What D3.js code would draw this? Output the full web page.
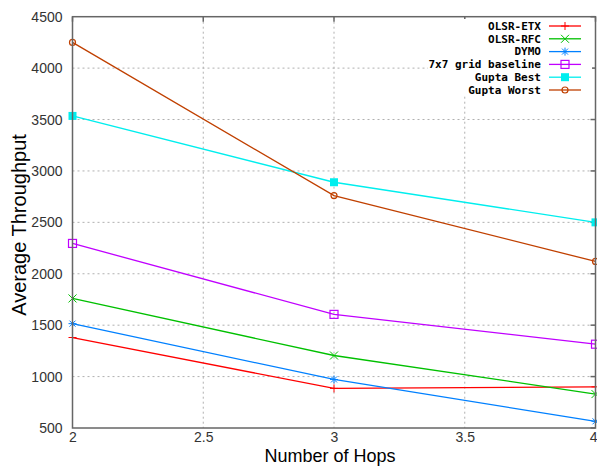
<!DOCTYPE html>
<html><head><meta charset="utf-8">
<script src="https://cdn.jsdelivr.net/npm/d3@7"></script>
<style>body{margin:0;background:#fff}</style>
</head><body>
<svg id="c" width="597" height="466"></svg>
<script>
const hops = [2, 3, 4];
const olsrEtx = [1380, 885, 900];
const olsrRfc = [1760, 1205, 830];
const dymo = [1515, 972, 565];
const baseline = [2295, 1605, 1315];
const guptaBest = [3535, 2890, 2500];
const guptaWorst = [4250, 2760, 2120];
const seriesNames = ["OLSR-ETX", "OLSR-RFC", "DYMO", "7x7 grid baseline", "Gupta Best", "Gupta Worst"];
const xTicks = [2, 2.5, 3, 3.5, 4];
const yTicks = [500, 1000, 1500, 2000, 2500, 3000, 3500, 4000, 4500];

const series = [
  {name: seriesNames[0], v: olsrEtx, color: "#ff0000", m: "plus"},
  {name: seriesNames[1], v: olsrRfc, color: "#00c000", m: "cross"},
  {name: seriesNames[2], v: dymo, color: "#0080ff", m: "star"},
  {name: seriesNames[3], v: baseline, color: "#c000ff", m: "osq"},
  {name: seriesNames[4], v: guptaBest, color: "#00eeee", m: "fsq"},
  {name: seriesNames[5], v: guptaWorst, color: "#c04000", m: "ocirc"}
];

const L = 72.5, R = 595.5, T = 16.7, B = 428;
const svg = d3.select("#c");
const x = d3.scaleLinear().domain([2, 4]).range([L, R]);
const y = d3.scaleLinear().domain([500, 4500]).range([B, T]);

// grid
const grid = svg.append("g");
grid.selectAll("line.gy").data(yTicks.slice(1, -1)).enter().append("line")
  .attr("x1", L).attr("x2", R).attr("y1", d => y(d)).attr("y2", d => y(d))
  .attr("stroke", "#b0b0b0").attr("stroke-width", 1).attr("stroke-dasharray", "2,3");
grid.selectAll("line.gx").data(xTicks.slice(1, -1)).enter().append("line")
  .attr("y1", T).attr("y2", B).attr("x1", d => x(d)).attr("x2", d => x(d))
  .attr("stroke", "#b0b0b0").attr("stroke-width", 1).attr("stroke-dasharray", "2,3");

// axes with ticks
const axL = svg.append("g").attr("transform", `translate(${L},0)`)
  .call(d3.axisLeft(y).tickValues(yTicks).tickFormat(d3.format("d")).tickSize(0).tickPadding(10));
const axB = svg.append("g").attr("transform", `translate(0,${B})`)
  .call(d3.axisBottom(x).tickValues(xTicks).tickFormat(d3.format("")).tickSize(0).tickPadding(4));
[axL, axB].forEach(a => {
  a.select(".domain").remove();
  a.selectAll("text").attr("font-family", "Liberation Sans, Arial, sans-serif")
    .attr("font-size", 14).attr("fill", "#333");
});
axB.selectAll(".tick").filter(d => d === 4).select("text").attr("text-anchor", "end").attr("x", 1.5);

// inner ticks
svg.append("g").selectAll("line").data(yTicks).enter().append("line")
  .attr("x1", R - 5).attr("x2", R).attr("y1", d => y(d)).attr("y2", d => y(d))
  .attr("stroke", "#666").attr("stroke-width", 1.5);
svg.append("g").selectAll("line").data(xTicks).enter().append("line")
  .attr("y1", T).attr("y2", T + 5).attr("x1", d => x(d)).attr("x2", d => x(d))
  .attr("stroke", "#666").attr("stroke-width", 1.5);

// legend background
svg.append("rect").attr("x", 428).attr("y", 19).attr("width", 164).attr("height", 76).attr("fill", "#fff");

// lines
const line = d3.line().x((d, i) => x(hops[i])).y(d => y(d));
function marker(g, type, cx, cy, color) {
  const s = 4;
  if (type === "plus") {
    g.append("path").attr("d", `M${cx - s},${cy}H${cx + s}M${cx},${cy - s}V${cy + s}`).attr("stroke", color).attr("fill", "none");
  } else if (type === "cross") {
    g.append("path").attr("d", `M${cx - s},${cy - s}L${cx + s},${cy + s}M${cx - s},${cy + s}L${cx + s},${cy - s}`).attr("stroke", color).attr("fill", "none");
  } else if (type === "star") {
    g.append("path").attr("d", `M${cx - s},${cy}H${cx + s}M${cx},${cy - s}V${cy + s}M${cx - s + 1},${cy - s + 1}L${cx + s - 1},${cy + s - 1}M${cx - s + 1},${cy + s - 1}L${cx + s - 1},${cy - s + 1}`).attr("stroke", color).attr("fill", "none");
  } else if (type === "osq") {
    g.append("rect").attr("x", cx - 4).attr("y", cy - 4).attr("width", 8).attr("height", 8).attr("stroke", color).attr("fill", "none").attr("stroke-width", 1.2);
  } else if (type === "fsq") {
    g.append("rect").attr("x", cx - 4).attr("y", cy - 4).attr("width", 8).attr("height", 8).attr("fill", color);
  } else if (type === "ocirc") {
    g.append("circle").attr("cx", cx).attr("cy", cy).attr("r", 3).attr("stroke", color).attr("fill", "none").attr("stroke-width", 1.2);
  }
}
series.forEach(s => {
  const g = svg.append("g");
  g.append("path").attr("d", line(s.v)).attr("stroke", s.color).attr("stroke-width", 1.3).attr("fill", "none");
  s.v.forEach((v, i) => marker(g, s.m, x(hops[i]), y(v), s.color));
});

// legend
const lg = svg.append("g");
series.forEach((s, i) => {
  const ly = 26 + i * 12.8;
  lg.append("text").attr("x", 541).attr("y", ly).attr("dy", "0.35em").attr("text-anchor", "end")
    .attr("font-family", "DejaVu Sans Mono, monospace").attr("font-weight", "bold").attr("font-size", 11)
    .attr("fill", "#000").text(s.name);
  lg.append("line").attr("x1", 549).attr("x2", 581).attr("y1", ly).attr("y2", ly).attr("stroke", s.color).attr("stroke-width", 1.3);
  marker(lg, s.m, 565, ly, s.color);
});

// frame
svg.append("rect").attr("x", L).attr("y", T).attr("width", R - L).attr("height", B - T)
  .attr("fill", "none").attr("stroke", "#666").attr("stroke-width", 1.5);

// titles
svg.append("text").attr("x", 330).attr("y", 462).attr("text-anchor", "middle")
  .attr("font-family", "Liberation Sans, Arial, sans-serif").attr("font-size", 18).attr("fill", "#000").text("Number of Hops");
svg.append("text").attr("transform", "translate(26,225) rotate(-90)").attr("text-anchor", "middle")
  .attr("font-family", "Liberation Sans, Arial, sans-serif").attr("font-size", 20).attr("fill", "#000").text("Average Throughput");
</script>
</body></html>
